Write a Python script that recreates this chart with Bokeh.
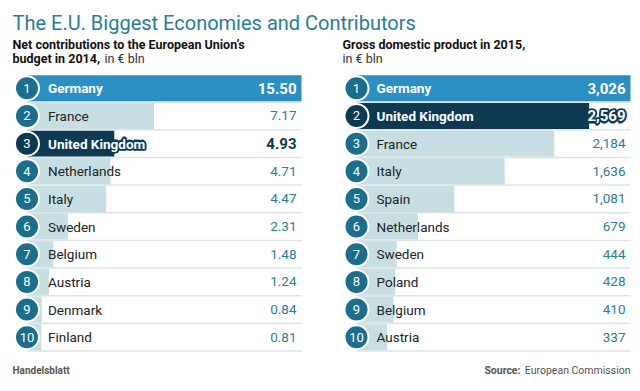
from bokeh.plotting import figure
from bokeh.models import Range1d, ColumnDataSource, Label
from bokeh.embed import file_html
from bokeh.resources import INLINE
from bokeh.core.properties import value

# ---------------- data ----------------
ranks = list(range(1, 11))
contrib_countries = ["Germany", "France", "United Kingdom", "Netherlands", "Italy",
                     "Sweden", "Belgium", "Austria", "Denmark", "Finland"]
contrib_values = [15.50, 7.17, 4.93, 4.71, 4.47, 2.31, 1.48, 1.24, 0.84, 0.81]
contrib_labels = ["15.50", "7.17", "4.93", "4.71", "4.47", "2.31", "1.48", "1.24", "0.84", "0.81"]

gdp_countries = ["Germany", "United Kingdom", "France", "Italy", "Spain",
                 "Netherlands", "Sweden", "Poland", "Belgium", "Austria"]
gdp_values = [3026, 2569, 2184, 1636, 1081, 679, 444, 428, 410, 337]
gdp_labels = ["3,026", "2,569", "2,184", "1,636", "1,081", "679", "444", "428", "410", "337"]

title = "The E.U. Biggest Economies and Contributors"

# ---------------- style ----------------
W, H = 640, 391
FONT = "Roboto"
TEAL_TITLE = "#2a7c96"
BLUE = "#2b8fc4"
NAVY = "#0d3a52"
CIRCLE = "#1b6e8c"
LIGHT = "#c7dee2"
VAL = "#2b7d98"
SEP = "#dde3e6"
TXT = "#222222"

ROW_H = 27.65
ROW_TOP = 74.0  # px from top of figure
y_start = 0.5 - ROW_TOP / ROW_H
y_end = y_start + H / ROW_H

# left panel: 0 at 26.5px, max at 301px
l_zero, l_max_px = 26.5, 301.0
l_scale = (l_max_px - l_zero) / max(contrib_values)
# right panel: 0 at 356px, max at 630px
r_zero, r_max_px = 356.0, 630.0
r_scale = (r_max_px - r_zero) / max(gdp_values)

p = figure(width=W, height=H, output_backend="svg", toolbar_location=None,
           x_range=Range1d(-l_zero / l_scale, (W - l_zero) / l_scale),
           y_range=Range1d(y_end, y_start),
           x_axis_location=None, y_axis_location=None, min_border=0,
           outline_line_color=None, background_fill_color="white",
           border_fill_color="white")
p.extra_x_ranges = {"gdp": Range1d(-r_zero / r_scale, (W - r_zero) / r_scale)}
p.xgrid.visible = False
p.ygrid.visible = False

HALO = [(-1, -1), (1, -1), (-1, 1), (1, 1), (-1.3, 0), (1.3, 0), (0, -1.3), (0, 1.3)]


def outlined(x, y, text, size, x_offset, align, kw):
    # navy halo underneath, white text on top
    n = len(HALO)
    p.text(x=[x] * n, y=[y] * n, text=[text] * n,
           x_offset=[x_offset + dx for dx, _ in HALO], y_offset=[dy for _, dy in HALO],
           text_color=NAVY, text_outline_color=NAVY, text_font=value(FONT),
           text_font_style="bold", text_font_size=size, text_align=align,
           text_baseline="middle", **kw)
    p.text(x=[x], y=[y], text=[text], x_offset=x_offset, text_color="white",
           text_font=value(FONT), text_font_style="bold",
           text_font_size=size, text_align=align, text_baseline="middle", **kw)


def panel(countries, values, labels, rng, label_off, uk_outline):
    kw = {} if rng is None else {"x_range_name": rng}
    vmax = max(values)
    colors, ccolors = [], []
    for c in countries:
        if c == "Germany":
            colors.append(BLUE); ccolors.append(CIRCLE)
        elif c == "United Kingdom":
            colors.append(NAVY); ccolors.append(NAVY)
        else:
            colors.append(LIGHT); ccolors.append(CIRCLE)
    # separators
    p.segment(x0=[0] * len(ranks), x1=[vmax] * len(ranks),
              y0=[r + 0.5 for r in ranks], y1=[r + 0.5 for r in ranks],
              line_color=SEP, line_width=1.5, **kw)
    # bars
    src = ColumnDataSource(dict(y=ranks, right=values, color=colors))
    p.hbar(y="y", left=0, right="right", height=0.94, fill_color="color",
           line_color=None, source=src, **kw)
    # circles
    p.scatter(x=[0] * len(ranks), y=ranks, size=24, fill_color=ccolors,
              line_color="white", line_width=2, **kw)
    p.text(x=[0] * len(ranks), y=ranks, text=[str(r) for r in ranks],
           text_color="white", text_font=value(FONT), text_font_size="13px",
           text_align="center", text_baseline="middle", **kw)
    # country & value labels
    for i, c in enumerate(countries):
        r = ranks[i]
        if c == "Germany":
            p.text(x=[0], y=[r], text=[c], x_offset=label_off, text_color="white",
                   text_font=value(FONT), text_font_style="bold", text_font_size="13.5px",
                   text_baseline="middle", **kw)
            p.text(x=[vmax], y=[r], text=[labels[i]], x_offset=-5, text_color="white",
                   text_font=value(FONT), text_font_style="bold", text_font_size="15px",
                   text_align="right", text_baseline="middle", **kw)
        elif c == "United Kingdom":
            if uk_outline:
                outlined(0, r, c, "13.5px", label_off, "left", kw)
            else:
                p.text(x=[0], y=[r], text=[c], x_offset=label_off, text_color="white",
                       text_font=value(FONT), text_font_style="bold", text_font_size="13.5px",
                       text_baseline="middle", **kw)
            if values[i] / vmax > 0.8:
                outlined(vmax, r, labels[i], "15px", -5, "right", kw)
            else:
                p.text(x=[vmax], y=[r], text=[labels[i]], x_offset=-5, text_color=NAVY,
                       text_font=value(FONT), text_font_style="bold", text_font_size="15px",
                       text_align="right", text_baseline="middle", **kw)
        else:
            p.text(x=[0], y=[r], text=[c], x_offset=label_off, text_color=TXT,
                   text_font=value(FONT), text_font_size="13.5px",
                   text_baseline="middle", **kw)
            p.text(x=[vmax], y=[r], text=[labels[i]], x_offset=-5, text_color=VAL,
                   text_font=value(FONT), text_font_size="13.5px",
                   text_align="right", text_baseline="middle", **kw)


panel(contrib_countries, contrib_values, contrib_labels, None, 21, True)
panel(gdp_countries, gdp_values, gdp_labels, "gdp", 20, False)


def lab(x, y_top, text, size, color, style="normal", align="left", baseline="alphabetic"):
    p.add_layout(Label(x=x, y=H - y_top, x_units="screen", y_units="screen", text=text,
                       text_font=FONT, text_font_size=size, text_color=color,
                       text_font_style=style, text_align=align, text_baseline=baseline))


lab(12, 22, title, "20px", TEAL_TITLE)
lab(12, 44.3, "Net contributions to the European Union\u2019s", "12.5px", "#111111", "bold")
lab(12, 58.3, "budget in 2014,", "12.5px", "#111111", "bold")
lab(104, 58.3, "in \u20ac bln", "12.5px", "#333333")
lab(342, 44.3, "Gross domestic product in 2015,", "12.5px", "#111111", "bold")
lab(342, 58.3, "in \u20ac bln", "12.5px", "#333333")
lab(12, 370, "Handelsblatt", "10px", "#555555", "bold", baseline="middle")
lab(520, 370, "Source:", "10.5px", "#555555", "bold", align="right", baseline="middle")
lab(630, 370, "European Commission", "10.5px", "#555555", align="right", baseline="middle")

open("out.html", "w").write(file_html(p, INLINE))
